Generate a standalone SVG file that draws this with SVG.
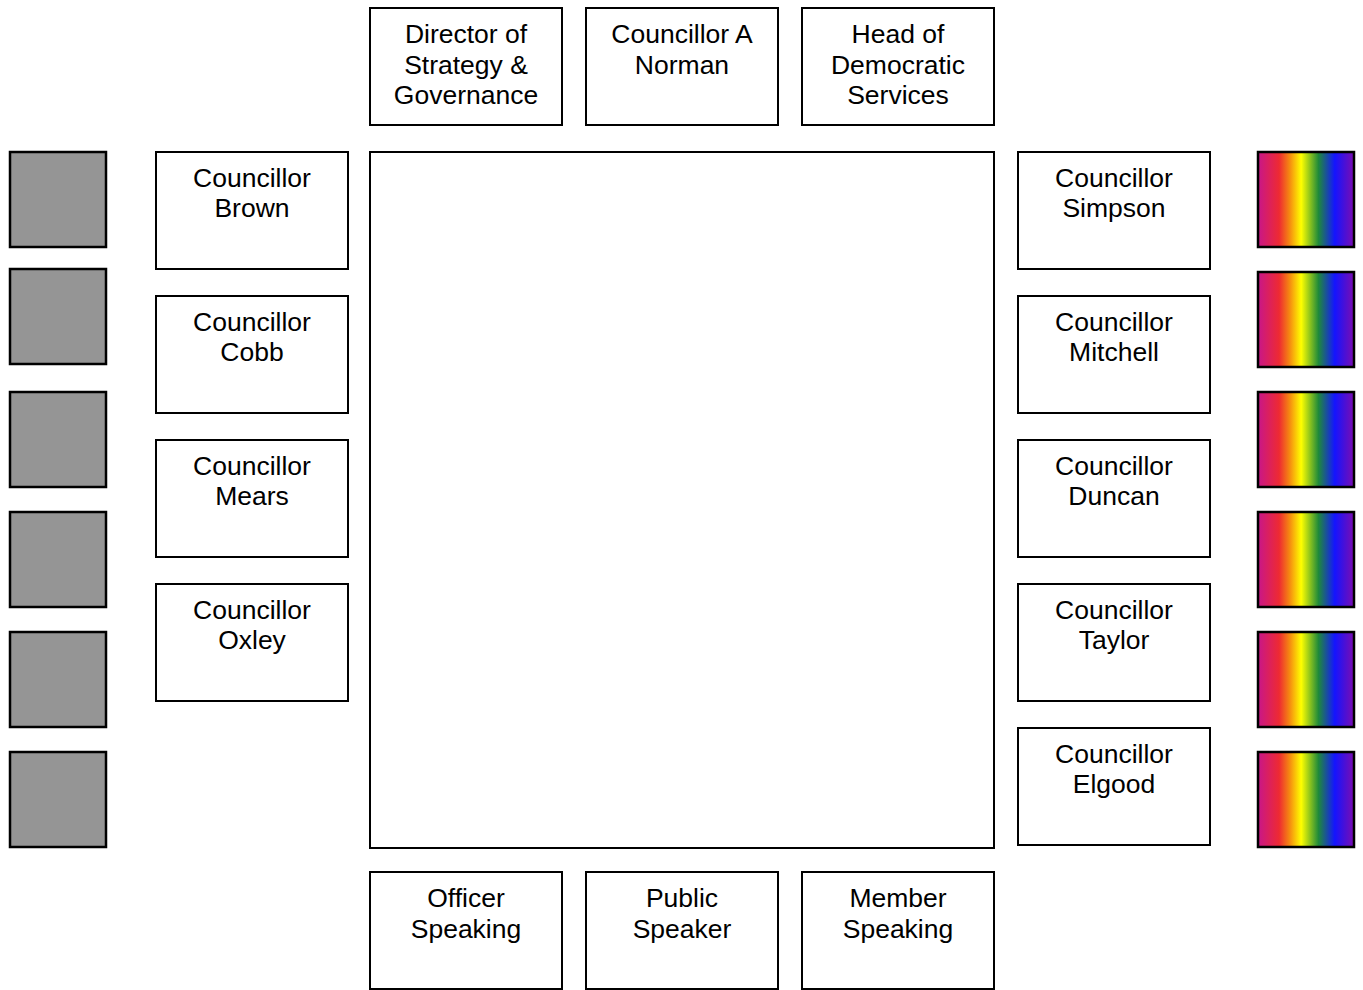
<svg xmlns="http://www.w3.org/2000/svg" width="1363" height="990" viewBox="0 0 1363 990">
<style>
.box{fill:#fff;stroke:#000;stroke-width:2}
.gray{fill:#959595;stroke:#000;stroke-width:2.5}
.rb{fill:url(#rainbow);stroke:#000;stroke-width:2.5}
text{font-family:"Liberation Sans",Arial,sans-serif;font-size:26.5px;fill:#000;text-anchor:middle}
</style>
<defs>
<linearGradient id="rainbow" x1="0" y1="0" x2="1" y2="0">
<stop offset="0" stop-color="#c8168a"/>
<stop offset="0.22" stop-color="#ee2a32"/>
<stop offset="0.33" stop-color="#f58a10"/>
<stop offset="0.45" stop-color="#ffff00"/>
<stop offset="0.63" stop-color="#1f8a3a"/>
<stop offset="0.8" stop-color="#1414ff"/>
<stop offset="1" stop-color="#7c0cb0"/>
</linearGradient>
</defs>
<g id="table"><rect class="box" x="370" y="152" width="624" height="696"/></g>
<g id="director"><rect class="box" x="370" y="8" width="192" height="117"/><text x="466" y="43">Director of</text><text x="466" y="73.5">Strategy &amp;</text><text x="466" y="104">Governance</text></g>
<g id="norman"><rect class="box" x="586" y="8" width="192" height="117"/><text x="682" y="43">Councillor A</text><text x="682" y="73.5">Norman</text></g>
<g id="head"><rect class="box" x="802" y="8" width="192" height="117"/><text x="898" y="43">Head of</text><text x="898" y="73.5">Democratic</text><text x="898" y="104">Services</text></g>
<g id="brown"><rect class="box" x="156" y="152" width="192" height="117"/><text x="252" y="187">Councillor</text><text x="252" y="217">Brown</text></g>
<g id="cobb"><rect class="box" x="156" y="296" width="192" height="117"/><text x="252" y="331">Councillor</text><text x="252" y="361">Cobb</text></g>
<g id="mears"><rect class="box" x="156" y="440" width="192" height="117"/><text x="252" y="475">Councillor</text><text x="252" y="505">Mears</text></g>
<g id="oxley"><rect class="box" x="156" y="584" width="192" height="117"/><text x="252" y="619">Councillor</text><text x="252" y="649">Oxley</text></g>
<g id="simpson"><rect class="box" x="1018" y="152" width="192" height="117"/><text x="1114" y="187">Councillor</text><text x="1114" y="217">Simpson</text></g>
<g id="mitchell"><rect class="box" x="1018" y="296" width="192" height="117"/><text x="1114" y="331">Councillor</text><text x="1114" y="361">Mitchell</text></g>
<g id="duncan"><rect class="box" x="1018" y="440" width="192" height="117"/><text x="1114" y="475">Councillor</text><text x="1114" y="505">Duncan</text></g>
<g id="taylor"><rect class="box" x="1018" y="584" width="192" height="117"/><text x="1114" y="619">Councillor</text><text x="1114" y="649">Taylor</text></g>
<g id="elgood"><rect class="box" x="1018" y="728" width="192" height="117"/><text x="1114" y="763">Councillor</text><text x="1114" y="793">Elgood</text></g>
<g id="officer"><rect class="box" x="370" y="872" width="192" height="117"/><text x="466" y="907">Officer</text><text x="466" y="938">Speaking</text></g>
<g id="public"><rect class="box" x="586" y="872" width="192" height="117"/><text x="682" y="907">Public</text><text x="682" y="938">Speaker</text></g>
<g id="member"><rect class="box" x="802" y="872" width="192" height="117"/><text x="898" y="907">Member</text><text x="898" y="938">Speaking</text></g>
<g id="gray-seats">
<rect class="gray" x="10" y="152" width="96" height="95"/>
<rect class="gray" x="10" y="269" width="96" height="95"/>
<rect class="gray" x="10" y="392" width="96" height="95"/>
<rect class="gray" x="10" y="512" width="96" height="95"/>
<rect class="gray" x="10" y="632" width="96" height="95"/>
<rect class="gray" x="10" y="752" width="96" height="95"/>
</g>
<g id="rainbow-seats">
<rect class="rb" x="1258" y="152" width="96" height="95"/>
<rect class="rb" x="1258" y="272" width="96" height="95"/>
<rect class="rb" x="1258" y="392" width="96" height="95"/>
<rect class="rb" x="1258" y="512" width="96" height="95"/>
<rect class="rb" x="1258" y="632" width="96" height="95"/>
<rect class="rb" x="1258" y="752" width="96" height="95"/>
</g>
<g id="connectors"/>
</svg>
